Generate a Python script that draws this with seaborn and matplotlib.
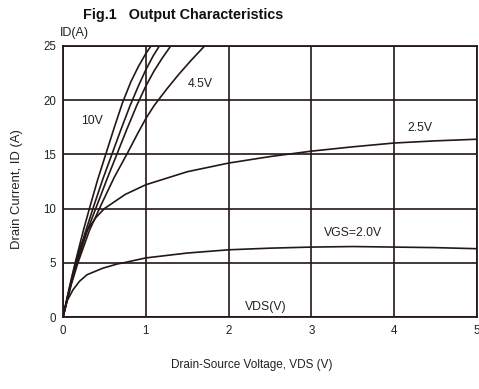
import matplotlib
matplotlib.use("Agg")
import matplotlib.pyplot as plt
import seaborn as sns
import pandas as pd

# Output characteristics: drain current ID (A) versus drain-source voltage VDS (V)
vgs_10v_vds = [0, 0.05, 0.10, 0.15, 0.25, 0.33, 0.42, 0.52, 0.62, 0.72, 0.82, 0.91, 1.00, 1.08]
vgs_10v_id = [0, 1.8, 3.5, 5.1, 8.1, 10.3, 12.7, 15.1, 17.5, 19.8, 21.7, 23.1, 24.3, 25.2]

vgs_6v_vds = [0, 0.05, 0.10, 0.16, 0.26, 0.37, 0.48, 0.59, 0.70, 0.81, 0.91, 1.00, 1.09, 1.18]
vgs_6v_id = [0, 1.7, 3.3, 5.0, 7.6, 10.2, 12.7, 15.0, 17.3, 19.5, 21.3, 22.8, 24.1, 25.2]

vgs_5v_vds = [0, 0.05, 0.10, 0.17, 0.29, 0.41, 0.53, 0.65, 0.77, 0.89, 1.00, 1.10, 1.20, 1.31]
vgs_5v_id = [0, 1.6, 3.1, 5.0, 7.9, 10.3, 12.7, 15.0, 17.3, 19.5, 21.3, 22.7, 23.9, 25.1]

vgs_45v_vds = [0, 0.05, 0.10, 0.18, 0.32, 0.47, 0.62, 0.77, 0.90, 1.00, 1.10, 1.25, 1.40, 1.55, 1.71, 1.78]
vgs_45v_id = [0, 1.5, 3.0, 5.0, 8.0, 10.5, 12.9, 15.0, 16.9, 18.3, 19.5, 21.0, 22.4, 23.7, 25.0, 25.5]

vgs_25v_vds = [0, 0.05, 0.10, 0.15, 0.20, 0.30, 0.40, 0.50, 0.75, 1.0, 1.5, 2.0, 2.5, 3.0, 3.5, 4.0, 4.5, 5.0]
vgs_25v_id = [0, 1.7, 3.3, 4.9, 6.3, 8.1, 9.2, 10.0, 11.3, 12.2, 13.4, 14.2, 14.8, 15.3, 15.7, 16.05, 16.25, 16.4]

vgs_20v_vds = [0, 0.05, 0.12, 0.20, 0.29, 0.48, 0.66, 0.73, 1.0, 1.5, 2.0, 2.5, 3.0, 3.5, 4.0, 4.5, 5.0]
vgs_20v_id = [0, 1.5, 2.5, 3.3, 3.9, 4.5, 4.9, 5.0, 5.45, 5.9, 6.2, 6.35, 6.45, 6.5, 6.45, 6.4, 6.3]

x_ticks = [0, 1, 2, 3, 4, 5]
y_ticks = [0, 5, 10, 15, 20, 25]

curves = {
    "10V": (vgs_10v_vds, vgs_10v_id),
    "6V": (vgs_6v_vds, vgs_6v_id),
    "5V": (vgs_5v_vds, vgs_5v_id),
    "4.5V": (vgs_45v_vds, vgs_45v_id),
    "2.5V": (vgs_25v_vds, vgs_25v_id),
    "2.0V": (vgs_20v_vds, vgs_20v_id),
}
frames = []
for name, (xs, ys) in curves.items():
    frames.append(pd.DataFrame({"VDS": xs, "ID": ys, "VGS": name}))
df = pd.concat(frames, ignore_index=True)

sns.set_style("white")
plt.rcParams["font.family"] = ["Liberation Sans", "DejaVu Sans"]

ink = "#231815"
fig = plt.figure(figsize=(4.79, 3.89), dpi=100)
ax = fig.add_axes([63 / 479, 1 - 317 / 389, 414 / 479, 271 / 389])

sns.lineplot(data=df, x="VDS", y="ID", hue="VGS", units="VGS", estimator=None,
             sort=False, palette=[ink] * len(curves), legend=False,
             linewidth=1.2, ax=ax)
for line in ax.get_lines():
    line.set_solid_joinstyle("round")

ax.set_xlim(0, 5)
ax.set_ylim(0, 25)
ax.set_xticks(x_ticks)
ax.set_yticks(y_ticks)
ax.set_xticklabels([str(v) for v in x_ticks], fontsize=8.3)
ax.set_yticklabels([str(v) for v in y_ticks], fontsize=8.3)
ax.tick_params(axis="both", length=0, colors="#222222")
ax.tick_params(axis="x", pad=6)
ax.tick_params(axis="y", pad=5)
ax.grid(True, color=ink, linewidth=1.2)
ax.set_axisbelow(True)
for sp in ax.spines.values():
    sp.set_visible(True)
    sp.set_color(ink)
    sp.set_linewidth(1.3)

ax.set_xlabel("")
ax.set_ylabel("")
fig.text(252 / 479, 1 - 365 / 389, "Drain-Source Voltage, VDS (V)", ha="center",
         va="center", fontsize=8.5, color="#222222")
fig.text(17 / 479, 1 - 189 / 389, "Drain Current, ID (A)", ha="center", va="center",
         rotation=90, fontsize=9.4, color="#222222")
fig.text(83 / 479, 1 - 15 / 389, "Fig.1   Output Characteristics", ha="left",
         va="center", fontsize=10.4, fontweight="bold", color="#111111")
fig.text(60 / 479, 1 - 33 / 389, "ID(A)", ha="left", va="center", fontsize=9,
         color="#222222")

label_kw = dict(ha="center", va="center", fontsize=8.8, color="#222222")
ax.text(0.35, 18.1, "10V", **label_kw)
ax.text(1.66, 21.5, "4.5V", **label_kw)
ax.text(4.31, 17.4, "2.5V", **label_kw)
ax.text(3.5, 7.75, "VGS=2.0V", **label_kw)
ax.text(2.45, 0.9, "VDS(V)", **label_kw)

fig.savefig("out.png", dpi=100)
